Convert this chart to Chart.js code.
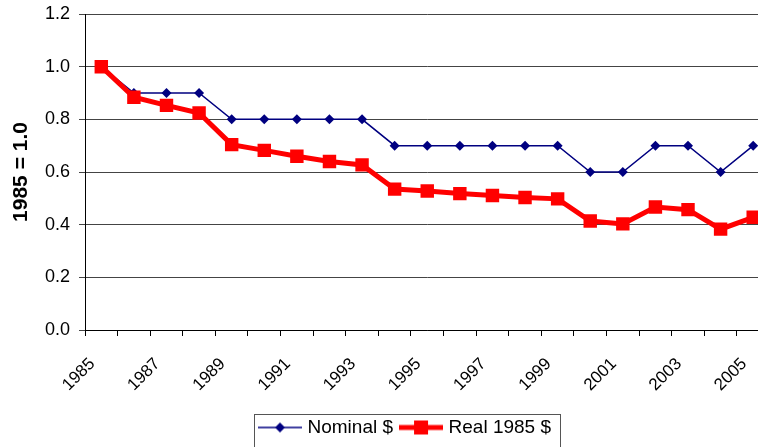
<!DOCTYPE html>
<html>
<head>
<meta charset="utf-8">
<script src="https://cdn.jsdelivr.net/npm/chart.js@4.4.1/dist/chart.umd.min.js"></script>
<style>
  html, body { margin: 0; padding: 0; background: #fff; overflow: hidden; }
  #wrap { width: 779px; height: 447px; }
</style>
</head>
<body>
<div id="wrap"><canvas id="chart"></canvas></div>
<script>
const years = ['1985', '1986', '1987', '1988', '1989', '1990', '1991', '1992', '1993', '1994', '1995',
  '1996', '1997', '1998', '1999', '2000', '2001', '2002', '2003', '2004', '2005'];
const nominal = [1.0, 0.9, 0.9, 0.9, 0.8, 0.8, 0.8, 0.8, 0.8, 0.7, 0.7,
  0.7, 0.7, 0.7, 0.7, 0.6, 0.6, 0.7, 0.7, 0.6, 0.7];
const real = [1.0, 0.884, 0.853, 0.824, 0.704, 0.682, 0.660, 0.640, 0.627, 0.535, 0.528,
  0.518, 0.511, 0.503, 0.498, 0.414, 0.403, 0.467, 0.457, 0.383, 0.428];
const yTicks = [0, 0.2, 0.4, 0.6, 0.8, 1.0, 1.2];

const FONT = '"Liberation Sans", Arial, sans-serif';
const NAVY = '#000080';
const RED = '#ff0000';

// little line+marker pictures for the legend
function legendIcon(kind) {
  const c = document.createElement('canvas');
  c.width = 44; c.height = 16;
  const g = c.getContext('2d');
  g.beginPath();
  g.moveTo(0, 8); g.lineTo(44, 8);
  if (kind === 'nominal') {
    g.strokeStyle = NAVY; g.lineWidth = 1.5; g.stroke();
    g.fillStyle = NAVY;
    g.beginPath();
    g.moveTo(22 - 5, 8); g.lineTo(22, 3); g.lineTo(22 + 5, 8); g.lineTo(22, 13); g.closePath();
    g.fill();
  } else {
    g.strokeStyle = RED; g.lineWidth = 5; g.stroke();
    g.fillStyle = RED;
    g.fillRect(22 - 7, 8 - 7, 14, 14);
  }
  return c;
}

const legendShift = {
  id: 'legendShift',
  afterLayout(chart) {
    const lg = chart.legend;
    const shift = 17;
    lg.left += shift; lg.right += shift;
    lg.legendHitBoxes.forEach(b => { b.left += shift; });
  },
  afterDraw(chart) {
    const lg = chart.legend;
    const boxes = lg.legendHitBoxes;
    if (!boxes.length) return;
    const first = boxes[0], last = boxes[boxes.length - 1];
    const ctx = chart.ctx;
    ctx.save();
    ctx.strokeStyle = '#555';
    ctx.lineWidth = 1;
    const x0 = Math.round(first.left) - 7.5;
    const x1 = Math.round(last.left + last.width) + 9.5;
    ctx.strokeRect(x0, Math.round(lg.top) + 6.5, x1 - x0, 60);
    ctx.restore();
  }
};

const ctx = document.getElementById('chart').getContext('2d');
new Chart(ctx, {
  type: 'line',
  data: {
    labels: years,
    datasets: [{
      label: 'Nominal $',
      data: nominal,
      borderColor: NAVY,
      backgroundColor: NAVY,
      borderWidth: 1.5,
      pointStyle: 'rectRot',
      pointRadius: 5,
      pointBorderWidth: 0,
      tension: 0,
      order: 1
    }, {
      label: 'Real 1985 $',
      data: real,
      borderColor: RED,
      backgroundColor: RED,
      borderWidth: 5,
      pointStyle: 'rect',
      pointRadius: 9.5,
      pointBorderWidth: 0,
      tension: 0,
      order: 0
    }]
  },
  options: {
    responsive: true,
    maintainAspectRatio: false,
    animation: false,
    layout: { padding: { top: 14, right: 0, bottom: 0, left: 0 } },
    plugins: {
      tooltip: { enabled: false },
      legend: {
        position: 'bottom',
        labels: {
          color: '#000',
          font: { family: FONT, size: 19 },
          usePointStyle: true,
          pointStyleWidth: 36,
          padding: 10,
          generateLabels: (chart) => chart.data.datasets.map((ds, i) => ({
            text: ds.label,
            pointStyle: legendIcon(i === 0 ? 'nominal' : 'real'),
            fillStyle: ds.borderColor,
            strokeStyle: ds.borderColor,
            lineWidth: 0,
            hidden: false,
            datasetIndex: i
          }))
        }
      }
    },
    scales: {
      x: {
        offset: true,
        grid: { offset: true, drawOnChartArea: false, color: '#000', tickLength: 6 },
        border: { color: '#000', width: 1 },
        ticks: {
          autoSkip: false,
          maxRotation: 45,
          minRotation: 45,
          padding: 18,
          labelOffset: -9,
          color: '#000',
          font: { family: FONT, size: 17 },
          callback: function (v, i) { return i % 2 === 0 ? years[i] : ''; }
        },
        afterFit: (scale) => {
          scale.height = 78;
          scale.paddingLeft = 0;
          scale.paddingRight = 0;
        }
      },
      y: {
        min: 0,
        max: 1.2,
        afterBuildTicks: (scale) => { scale.ticks = yTicks.map(v => ({ value: v })); },
        grid: { color: '#444', tickLength: 6 },
        border: { color: '#000', width: 1 },
        ticks: {
          padding: 9,
          color: '#000',
          font: { family: FONT, size: 18 },
          callback: (v) => v.toFixed(1)
        },
        title: {
          display: true,
          text: '1985 = 1.0',
          color: '#000',
          font: { family: FONT, size: 21, weight: 'bold' },
          padding: { top: 9, bottom: 0 }
        },
        afterFit: (scale) => {
          scale.width = 85;
          scale.paddingTop = 0;
          scale.paddingBottom = 0;
        }
      }
    }
  },
  plugins: [legendShift]
});
</script>
</body>
</html>
